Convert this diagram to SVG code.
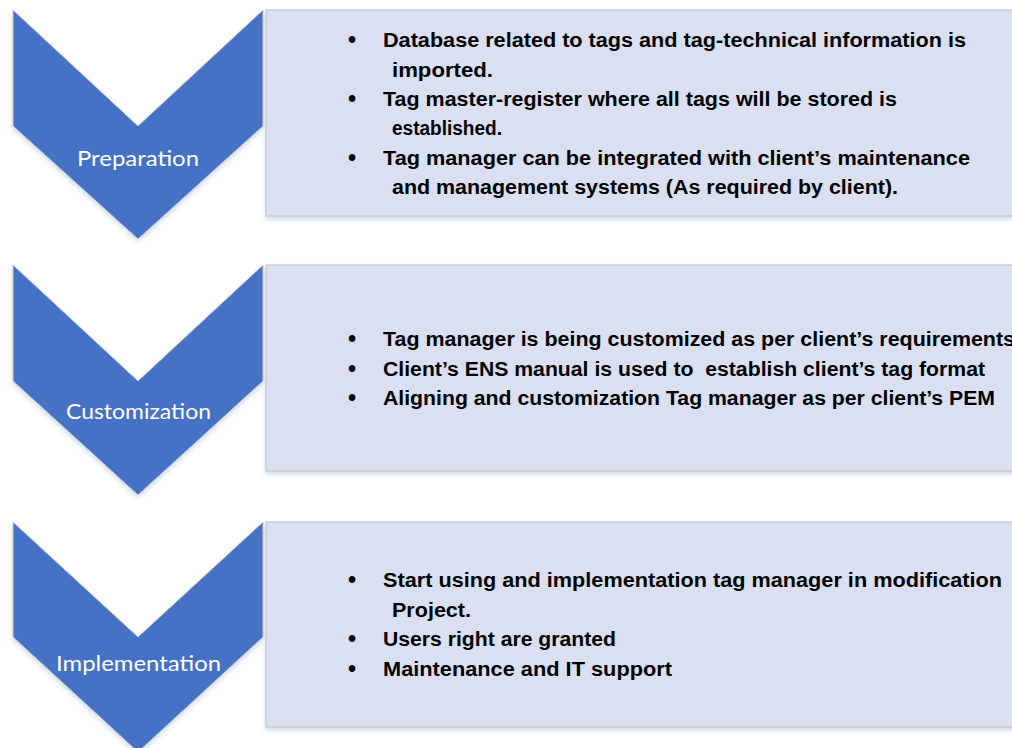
<svg xmlns="http://www.w3.org/2000/svg" width="1012" height="748" viewBox="0 0 1012 748">
<style>
.chev{fill:#4472C4;stroke:#C9C9C9;stroke-width:1;filter:url(#sh)}
.box{fill:#DAE0F2;stroke:#C6C6C6;stroke-width:1.2;filter:url(#sh)}
.lbl{font-family:Lato,"Liberation Sans",sans-serif;font-size:21px;fill:#FFFFFF;text-anchor:start}
.t{font-family:"Liberation Sans",Arial,sans-serif;font-weight:bold;font-size:20px;fill:#000000}
.b{font-family:"Liberation Sans",Arial,sans-serif;font-weight:bold;font-size:23px;fill:#000000}
</style>
<defs>
<filter id="sh" x="-10%" y="-10%" width="120%" height="125%">
<feDropShadow dx="0" dy="3" stdDeviation="2.5" flood-color="#9DB4DC" flood-opacity="0.45"/>
</filter>
</defs>
<rect width="1012" height="748" fill="#FFFFFF"/>
<g id="connectors"></g>

<g id="preparation">
<polygon class="chev" points="13,10 138,126 263,10 263,126 138,239 13,126"/>
<text class="lbl" x="77" y="166" textLength="122" lengthAdjust="spacingAndGlyphs">Preparation</text>
</g>
<g id="preparation-details">
<rect class="box" x="266" y="10" width="760" height="206"/>
<text class="b" x="348" y="48">•</text>
<text class="t" x="383" y="47" textLength="583" lengthAdjust="spacingAndGlyphs">Database related to tags and tag-technical information is</text>
<text class="t" x="392" y="77" textLength="101" lengthAdjust="spacingAndGlyphs">imported.</text>
<text class="b" x="348" y="107">•</text>
<text class="t" x="383" y="106" textLength="514" lengthAdjust="spacingAndGlyphs">Tag master-register where all tags will be stored is</text>
<text class="t" x="392" y="135" textLength="110" lengthAdjust="spacingAndGlyphs">established.</text>
<text class="b" x="348" y="166">•</text>
<text class="t" x="383" y="165" textLength="587" lengthAdjust="spacingAndGlyphs">Tag manager can be integrated with client’s maintenance</text>
<text class="t" x="392" y="194" textLength="506" lengthAdjust="spacingAndGlyphs">and management systems (As required by client).</text>
</g>

<g id="customization">
<polygon class="chev" points="13,265 138,381 263,265 263,381 138,495 13,381"/>
<text class="lbl" x="66" y="419" textLength="145" lengthAdjust="spacingAndGlyphs">Customization</text>
</g>
<g id="customization-details">
<rect class="box" x="266" y="265" width="760" height="206"/>
<text class="b" x="348" y="347">•</text>
<text class="t" x="383" y="346" textLength="632" lengthAdjust="spacingAndGlyphs">Tag manager is being customized as per client’s requirements</text>
<text class="b" x="348" y="377">•</text>
<text class="t" x="383" y="376" textLength="602" lengthAdjust="spacingAndGlyphs">Client’s ENS manual is used to&#160; establish client’s tag format</text>
<text class="b" x="348" y="406">•</text>
<text class="t" x="383" y="405" textLength="612" lengthAdjust="spacingAndGlyphs">Aligning and customization Tag manager as per client’s PEM</text>
</g>

<g id="implementation">
<polygon class="chev" points="13,522 138,637 263,522 263,637 138,752 13,637"/>
<text class="lbl" x="56" y="671" textLength="165" lengthAdjust="spacingAndGlyphs">Implementation</text>
</g>
<g id="implementation-details">
<rect class="box" x="266" y="522" width="760" height="205"/>
<text class="b" x="348" y="588">•</text>
<text class="t" x="383" y="587" textLength="619" lengthAdjust="spacingAndGlyphs">Start using and implementation tag manager in modification</text>
<text class="t" x="392" y="617" textLength="79" lengthAdjust="spacingAndGlyphs">Project.</text>
<text class="b" x="348" y="647">•</text>
<text class="t" x="383" y="646" textLength="233" lengthAdjust="spacingAndGlyphs">Users right are granted</text>
<text class="b" x="348" y="677">•</text>
<text class="t" x="383" y="676" textLength="289" lengthAdjust="spacingAndGlyphs">Maintenance and IT support</text>
</g>
</svg>
